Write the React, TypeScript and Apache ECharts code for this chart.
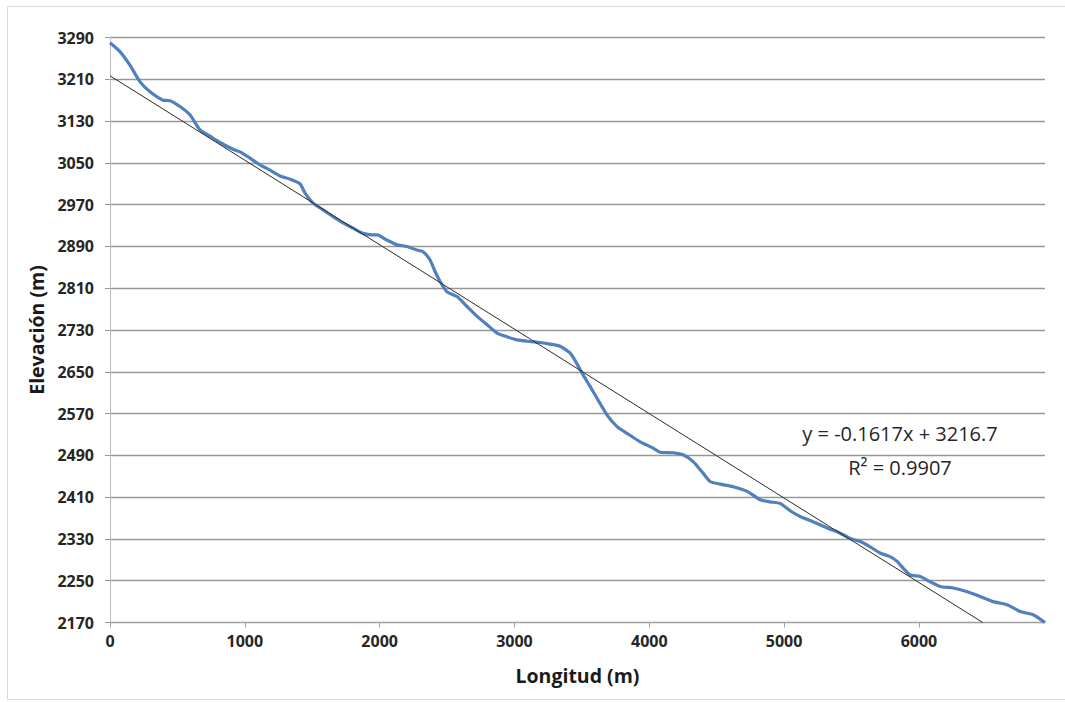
import React, { useEffect, useRef } from "react";
import * as echarts from "echarts";

// Profile: longitud (m)
const longitud = [0, 74, 148, 223, 297, 393, 445, 519, 593, 668, 742, 816, 912, 964, 1039, 1113, 1187, 1261, 1335, 1409, 1447, 1506, 1580, 1654, 1728, 1803, 1877, 1944, 1981, 2055, 2129, 2203, 2277, 2322, 2374, 2411, 2448, 2500, 2574, 2648, 2723, 2797, 2871, 2945, 3019, 3116, 3190, 3264, 3338, 3412, 3462, 3509, 3561, 3620, 3687, 3761, 3835, 3932, 4028, 4080, 4177, 4251, 4325, 4399, 4451, 4525, 4622, 4726, 4822, 4896, 4970, 5045, 5119, 5215, 5319, 5415, 5490, 5564, 5638, 5712, 5786, 5838, 5883, 5935, 6009, 6083, 6157, 6254, 6358, 6454, 6550, 6654, 6751, 6847, 6935];
// Elevación (m)
const elevacion = [3280, 3263, 3237, 3205, 3186, 3170, 3169, 3158, 3142, 3113, 3101, 3089, 3076, 3071, 3059, 3046, 3036, 3025, 3019, 3010, 2992, 2973, 2960, 2947, 2935, 2925, 2915, 2912, 2912, 2902, 2893, 2890, 2883, 2880, 2864, 2842, 2823, 2803, 2794, 2775, 2756, 2740, 2724, 2717, 2711, 2708, 2706, 2703, 2699, 2686, 2666, 2644, 2622, 2596, 2567, 2545, 2532, 2516, 2504, 2496, 2495, 2491, 2478, 2456, 2440, 2435, 2430, 2421, 2405, 2401, 2398, 2384, 2373, 2363, 2351, 2341, 2331, 2325, 2315, 2303, 2296, 2287, 2274, 2261, 2258, 2248, 2239, 2236, 2229, 2220, 2210, 2204, 2191, 2185, 2170];

// Linear trend line (Excel)
const slope = -0.1617;
const intercept = 3216.7;
const rSquared = 0.9907;

const xTicks = [0, 1000, 2000, 3000, 4000, 5000, 6000];
const yMin = 2170;
const yMax = 3290;
const yStep = 80;
const xMax = 6935;

export default function App() {
  const ref = useRef<HTMLDivElement>(null);
  useEffect(() => {
    if (!ref.current) return;
    const chart = echarts.init(ref.current, undefined, { renderer: "svg" });
    const trendEnd = (yMin - intercept) / slope;
    const profile = longitud.map((x, i) => [x, elevacion[i]]);
    const trend = [
      [0, intercept],
      [trendEnd, intercept + slope * trendEnd],
    ];
    const labelFont = {
      fontFamily: "Open Sans",
      fontWeight: "bold" as const,
      fontSize: 16,
      color: "#262626",
      formatter: (v: number) => String(v),
    };
    const titleFont = { fontFamily: "Open Sans", fontWeight: "bold" as const, fontSize: 19.5, color: "#1a1a1a" };
    chart.setOption({
      animation: false,
      backgroundColor: "#ffffff",
      grid: { left: 110, right: 20, top: 37.5, bottom: 79.5, containLabel: false },
      xAxis: {
        type: "value",
        min: 0,
        max: xMax,
        interval: 1000,
        name: "Longitud (m)",
        nameLocation: "middle",
        nameGap: 43,
        nameTextStyle: titleFont,
        axisLine: { show: true, onZero: false, lineStyle: { color: "#a0a0a0", width: 1 } },
        axisTick: { show: true, length: 5, lineStyle: { color: "#a0a0a0" }, customValues: xTicks },
        axisLabel: { ...labelFont, margin: 10, customValues: xTicks },
        splitLine: { show: false },
      },
      yAxis: {
        type: "value",
        min: yMin,
        max: yMax,
        interval: yStep,
        name: "Elevación (m)",
        nameLocation: "middle",
        nameGap: 56,
        nameTextStyle: titleFont,
        axisLine: { show: true, lineStyle: { color: "#bfbfbf", width: 1 } },
        axisTick: { show: true, length: 5, lineStyle: { color: "#979797" } },
        axisLabel: { ...labelFont, margin: 16 },
        splitLine: { show: true, lineStyle: { color: "#979797", width: 1.4 } },
      },
      series: [
        {
          type: "line",
          data: profile,
          showSymbol: false,
          smooth: 0.2,
          lineStyle: { color: "#4f81bd", width: 3.2 },
          z: 3,
        },
        {
          type: "line",
          data: trend,
          showSymbol: false,
          lineStyle: { color: "#2b2b2b", width: 1 },
          z: 4,
        },
      ],
      graphic: [
        {
          type: "rect",
          shape: { x: 7.5, y: 6.5, width: 1070, height: 693 },
          style: { fill: "none", stroke: "#d9d9d9", lineWidth: 1 },
          silent: true,
        },
        {
          type: "text",
          x: 900,
          y: 433,
          style: {
            text: `y = ${slope}x + ${intercept}`,
            fontFamily: "Open Sans",
            fontSize: 20,
            fill: "#262626",
            align: "center",
            verticalAlign: "middle",
          },
        },
        {
          type: "text",
          x: 900,
          y: 467,
          style: {
            text: `R² = ${rSquared}`,
            fontFamily: "Open Sans",
            fontSize: 20,
            fill: "#262626",
            align: "center",
            verticalAlign: "middle",
          },
        },
      ],
    });
    return () => chart.dispose();
  }, []);
  return (
    <div
      ref={ref}
      style={{ position: "absolute", left: 0, top: 0, width: 1065, height: 702 }}
    />
  );
}
